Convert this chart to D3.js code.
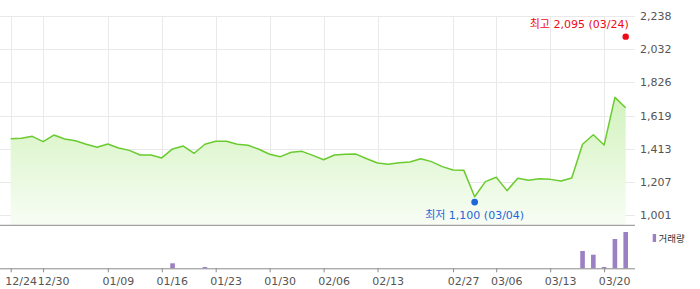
<!DOCTYPE html>
<html>
<head>
<meta charset="utf-8">
<script src="https://cdn.jsdelivr.net/npm/d3@7"></script>
<style>
  body { margin: 0; background: #fff; }
  text { font-family: "DejaVu Sans", "Noto Sans CJK KR", sans-serif; }
</style>
</head>
<body>
<div class="chart"></div>
<script>
// trading days (index based x axis)
var dates = ["12/24","12/26","12/27","12/30","01/02","01/03","01/06","01/07","01/08","01/09",
  "01/10","01/13","01/14","01/15","01/16","01/17","01/20","01/21","01/22","01/23",
  "01/24","01/27","01/28","01/29","01/30","01/31","02/03","02/04","02/05","02/06",
  "02/07","02/10","02/11","02/12","02/13","02/14","02/17","02/18","02/20","02/24",
  "02/26","02/27","02/28","03/04","03/05","03/06","03/07","03/10","03/11","03/12",
  "03/13","03/14","03/17","03/18","03/19","03/20","03/21","03/24"];

var closes = [1476,1479,1491,1458,1499,1475,1464,1442,1423,1444,
  1419,1404,1375,1375,1357,1413,1431,1386,1442,1460,
  1460,1442,1436,1411,1380,1365,1392,1398,1373,1346,
  1375,1380,1381,1352,1326,1318,1327,1332,1352,1334,
  1303,1282,1280,1116,1210,1237,1154,1231,1218,1228,
  1224,1214,1233,1442,1501,1437,1733,1669];

var volumes = [0,0,0,0,0,0,0,0,0,0,
  0,0,0,0,0,5000,0,0,1300,0,
  0,0,0,0,0,0,0,0,0,0,
  0,0,0,0,0,0,0,0,0,0,
  0,0,0,0,0,0,0,0,0,0,
  0,0,0,17300,13600,1300,29300,36300];

var tickDates = ["12/24","12/30","01/09","01/16","01/23","01/30","02/06","02/13","02/27","03/06","03/13","03/20"];
var yTicks = [1001,1207,1413,1619,1826,2032,2238];

var high = {date: "03/24", value: 2095};
var low = {date: "03/04", value: 1100};

var svgWidth = 700;
var svgHeight = 289;
var plotRight = 635;
var priceBottom = 225.3;
var volBottom = 268.3;

var svg = d3.select(".chart")
  .append("svg")
  .attr("width", svgWidth)
  .attr("height", svgHeight);

var x = d3.scalePoint()
  .domain(dates)
  .range([10.7, 625.7]);

var y = d3.scaleLinear()
  .domain([1001, 2238])
  .range([215.3, 16]);

var yVol = d3.scaleLinear()
  .domain([0, 42000])
  .range([volBottom, volBottom - 42]);

// gradient for the area
var grad = svg.append("defs").append("linearGradient")
  .attr("id", "areaFill")
  .attr("gradientUnits", "userSpaceOnUse")
  .attr("x1", 0).attr("x2", 0)
  .attr("y1", y(d3.max(closes))).attr("y2", priceBottom);
grad.append("stop").attr("offset", "0%").attr("stop-color", "#d2f3bd");
grad.append("stop").attr("offset", "100%").attr("stop-color", "#f8fdf5");

// gridlines
svg.append("g").selectAll("line")
  .data(yTicks)
  .enter()
  .append("line")
  .attr("x1", 0)
  .attr("x2", plotRight)
  .attr("y1", d => Math.round(y(d)) + 0.5)
  .attr("y2", d => Math.round(y(d)) + 0.5)
  .attr("stroke", "#e9e9e9");

svg.append("g").selectAll("line")
  .data(tickDates)
  .enter()
  .append("line")
  .attr("x1", d => Math.round(x(d)) + 0.5)
  .attr("x2", d => Math.round(x(d)) + 0.5)
  .attr("y1", y(2238))
  .attr("y2", priceBottom)
  .attr("stroke", "#e9e9e9");

// price area + line
var area = d3.area()
  .x((d, i) => x(dates[i]))
  .y0(priceBottom)
  .y1(d => y(d));

var line = d3.line()
  .x((d, i) => x(dates[i]))
  .y(d => y(d));

svg.append("path")
  .datum(closes)
  .attr("d", area)
  .attr("fill", "url(#areaFill)");

svg.append("path")
  .datum(closes)
  .attr("d", line)
  .attr("fill", "none")
  .attr("stroke", "#6acb2f")
  .attr("stroke-width", 1.5)
  .attr("stroke-linejoin", "round");

// right y axis labels
var yAxis = d3.axisRight(y)
  .tickValues(yTicks)
  .tickSize(0)
  .tickPadding(5)
  .tickFormat(d3.format(","));

var yAxisG = svg.append("g")
  .attr("transform", `translate(${plotRight}, 0)`)
  .call(yAxis);
yAxisG.select(".domain").remove();
yAxisG.selectAll("text")
  .attr("fill", "#555")
  .style("font-size", "11px")
  .style("font-family", "DejaVu Sans, sans-serif");

// panel separators
svg.append("line")
  .attr("x1", 0).attr("x2", plotRight)
  .attr("y1", priceBottom).attr("y2", priceBottom)
  .attr("stroke", "#8a8a8a");

// volume bars
svg.append("g").selectAll("rect")
  .data(volumes)
  .enter()
  .append("rect")
  .attr("x", (d, i) => x(dates[i]) - 2.3)
  .attr("width", 4.6)
  .attr("y", d => yVol(d))
  .attr("height", d => volBottom - yVol(d))
  .attr("fill", "#9b80c4");

// x axis
var xAxis = d3.axisBottom(x)
  .tickValues(tickDates)
  .tickSizeOuter(0)
  .tickSize(4)
  .tickPadding(5);

var xAxisG = svg.append("g")
  .attr("transform", `translate(0, ${volBottom})`)
  .call(xAxis);
xAxisG.select(".domain")
  .attr("d", `M0,0.5H${plotRight}`)
  .attr("stroke", "#8a8a8a");
xAxisG.selectAll(".tick line").attr("stroke", "#8a8a8a");
xAxisG.selectAll("text")
  .attr("dx", 10)
  .attr("fill", "#555")
  .style("font-size", "11px")
  .style("font-family", "DejaVu Sans, sans-serif");

// legend
svg.append("rect")
  .attr("x", 652.7).attr("y", 234)
  .attr("width", 3.4).attr("height", 8)
  .attr("fill", "#9b80c4");
svg.append("text")
  .attr("x", 658.5).attr("y", 241.5)
  .attr("fill", "#333")
  .style("font-size", "9.5px")
  .text("거래량");

// high / low markers
svg.append("circle")
  .attr("cx", x(high.date))
  .attr("cy", y(high.value) - 2.4)
  .attr("r", 3.2)
  .attr("fill", "#f00a14");
svg.append("text")
  .attr("x", x(high.date) + 3)
  .attr("y", y(high.value) - 11.5)
  .attr("text-anchor", "end")
  .attr("fill", "#f00a14")
  .style("font-size", "11px")
  .text(`최고 ${d3.format(",")(high.value)} (${high.date})`);

svg.append("circle")
  .attr("cx", x(low.date))
  .attr("cy", y(low.value) + 2.7)
  .attr("r", 3.4)
  .attr("fill", "#1f66d9");
svg.append("text")
  .attr("x", x(low.date))
  .attr("y", y(low.value) + 19.5)
  .attr("text-anchor", "middle")
  .attr("fill", "#1f66d9")
  .style("font-size", "11px")
  .text(`최저 ${d3.format(",")(low.value)} (${low.date})`);
</script>
</body>
</html>
